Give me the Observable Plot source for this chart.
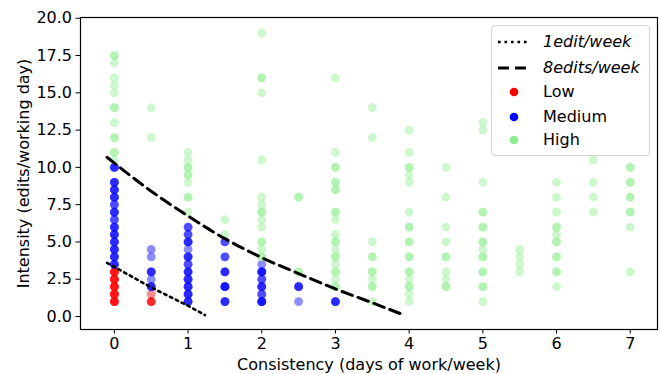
<!DOCTYPE html>
<html>
<head>
<meta charset="utf-8">
<script src="https://cdn.jsdelivr.net/npm/d3@7"></script>
<script src="https://cdn.jsdelivr.net/npm/@observablehq/plot@0.6"></script>
<style>
  html, body { margin: 0; padding: 0; background: #fff; }
  #wrap { position: relative; width: 660px; height: 374px; font-family: "DejaVu Sans", sans-serif; }
  #legend { position: absolute; left: 491px; top: 25px; width: 157px; height: 129px;
    border: 1px solid #d4d4d4; border-radius: 4px; background: rgba(255,255,255,0.8); }
  .row { position: absolute; left: 0; height: 22px; display: flex; align-items: center; font-size: 16px; color: #000; }
  .row svg { display: block; }
  .row .lbl { position: absolute; left: 51px; white-space: nowrap; line-height: 22px; }
  .it { font-style: italic; }
</style>
</head>
<body>
<div id="wrap"></div>
<script>
// ---- data (x = consistency, y = intensity, n = number of overlapping points) ----
const lowPts = [
  [0,1,4],[0,1.5,4],[0,2,4],[0,2.5,4],[0,3,4],
  [0.5,1,3],[0.5,1.5,1]
];
const mediumPts = [
  [0,3.5,3],[0,4,3],[0,4.5,3],[0,5,3],[0,5.5,3],[0,6,3],[0,6.5,2],[0,7,3],[0,7.5,2],[0,8,3],[0,8.5,3],[0,9,3],[0,10,3],
  [0.5,2,3],[0.5,2.5,1],[0.5,3,3],[0.5,4,1],[0.5,4.5,1],
  [1,1,3],[1,1.5,3],[1,2,3],[1,2.5,3],[1,3,3],[1,3.5,2],[1,4,3],[1,4.5,1],[1,5,3],[1,5.5,2],[1,6,2],
  [1.5,1,3],[1.5,2,4],[1.5,3,3],[1.5,4,2],[1.5,5,2],
  [2,1,4],[2,1.5,2],[2,2,3],[2,2.5,2],[2,3,4],[2,3.5,1],
  [2.5,1,1],[2.5,2,3],
  [3,1,3]
];
const highPts = [
  [0,10.5,1],[0,11,2],[0,12,2],[0,13,1],[0,14,2],[0,15,1],[0,15.5,1],[0,16,1],[0,17,1],[0,17.5,2],
  [0.5,12,1],[0.5,14,1],
  [1,7,1],[1,8,2],[1,9,1],[1,9.5,2],[1,10,2],[1,10.5,1],[1,11,1],
  [1.5,5.5,1],[1.5,6.5,1],
  [2,4,2],[2,4.5,1],[2,5,2],[2,6,1],[2,6.5,1],[2,7,2],[2,7.5,1],[2,8,1],[2,10.5,1],[2,15,1],[2,16,2],[2,19,1],
  [2.5,3,2],[2.5,8,2],
  [3,2,2],[3,2.5,1],[3,3,2],[3,3.5,1],[3,4,2],[3,4.5,1],[3,5,2],[3,5.5,1],[3,6.5,1],[3,7,2],[3,8.5,2],[3,9,2],[3,10,2],[3,11,1],[3,16,1],
  [3.5,1,1],[3.5,2,2],[3.5,2.5,1],[3.5,3,2],[3.5,4,2],[3.5,5,1],[3.5,12,1],[3.5,14,1],
  [4,1,1],[4,1.5,1],[4,2,2],[4,2.5,1],[4,3,2],[4,4,2],[4,5,2],[4,6,2],[4,7,1],[4,9,1],[4,9.5,1],[4,10,2],[4,11,1],[4,12.5,1],
  [4.5,2,2],[4.5,2.5,1],[4.5,3,1],[4.5,4,2],[4.5,5,1],[4.5,6,1],[4.5,8,1],[4.5,10,1],
  [5,1,1],[5,2,2],[5,3,2],[5,4,2],[5,4.5,1],[5,5,2],[5,6,2],[5,7,2],[5,9,1],[5,12.5,1],[5,13,1],
  [5.5,3,1],[5.5,3.5,1],[5.5,4,1],[5.5,4.5,1],
  [6,2,1],[6,3,2],[6,4,2],[6,5,2],[6,5.5,1],[6,6,2],[6,7,1],[6,8,1],[6,9,1],[6,14,1],
  [6.5,7,1],[6.5,8,1],[6.5,9,1],[6.5,10.5,1],
  [7,3,1],[7,6,1],[7,7,2],[7,8,2],[7,9,2],[7,10,2],[7,18,1]
];
const oneEditX = [-0.1, 0.5, 1, 1.23];
const oneEditY = [3.6, 1.95, 0.72, 0.1];
const eightEditsX = [-0.1, 0.5, 1, 1.5, 2, 2.5, 3, 3.5, 3.95];
const eightEditsY = [10.68, 8.4, 6.74, 5.22, 3.95, 2.88, 1.85, 0.92, 0.06];
const xTicks = [0, 1, 2, 3, 4, 5, 6, 7];
const yTicks = [0, 2.5, 5, 7.5, 10, 12.5, 15, 17.5, 20];
const xLabel = "Consistency (days of work/week)";
const yLabel = "Intensity (edits/working day)";

// ---- build tables ----
const expand = pts => pts.flatMap(([x, y, n]) => d3.range(n).map(() => ({x, y})));
const low = expand(lowPts), medium = expand(mediumPts), high = expand(highPts);
const oneEdit = oneEditX.map((x, i) => ({x, y: oneEditY[i]}));
const eightEdits = eightEditsX.map((x, i) => ({x, y: eightEditsY[i]}));

const A = 0.45, R = 4.4;
const chart = Plot.plot({
  width: 660, height: 374,
  marginLeft: 80, marginRight: 3, marginTop: 17, marginBottom: 45,
  style: { fontFamily: "DejaVu Sans", fontSize: "16px", background: "white", color: "black" },
  x: { domain: [-0.46, 7.37] },
  y: { domain: [-0.87, 20.05] },
  marks: [
    Plot.axisX({ ticks: xTicks, tickFormat: d => String(d), tickSize: 4.5, tickPadding: 4, label: null, fontSize: 16 }),
    Plot.axisY({ ticks: yTicks, tickFormat: d3.format(".1f"), tickSize: 4.5, tickPadding: 4, label: null, fontSize: 16 }),
    Plot.dot(low, { x: "x", y: "y", r: R, fill: "red", fillOpacity: A, stroke: "none" }),
    Plot.dot(medium, { x: "x", y: "y", r: R, fill: "blue", fillOpacity: A, stroke: "none" }),
    Plot.dot(high, { x: "x", y: "y", r: R, fill: "lightgreen", fillOpacity: A, stroke: "none" }),
    Plot.line(oneEdit, { x: "x", y: "y", stroke: "black", strokeWidth: 2.6, strokeDasharray: "2.6,3.9" }),
    Plot.line(eightEdits, { x: "x", y: "y", stroke: "black", strokeWidth: 3, strokeDasharray: "11,6", curve: "monotone-x" }),
    Plot.frame({ stroke: "black", strokeWidth: 1.2 }),
    Plot.text([xLabel], { text: d => d, frameAnchor: "bottom", dy: 35, lineAnchor: "middle", textAnchor: "middle", fontSize: 16, fill: "black" }),
    Plot.text([yLabel], { text: d => d, frameAnchor: "left", dx: -57, rotate: -90, lineAnchor: "middle", textAnchor: "middle", fontSize: 16, fill: "black" })
  ]
});
const wrap = document.getElementById("wrap");
wrap.appendChild(chart);

// ---- legend ----
const legendItems = [
  { label: "1edit/week", kind: "dotted", italic: true },
  { label: "8edits/week", kind: "dashed", italic: true },
  { label: "Low", kind: "dot", color: "red" },
  { label: "Medium", kind: "dot", color: "blue" },
  { label: "High", kind: "dot", color: "lightgreen" }
];
const rowCenters = [15.5, 41.5, 66, 91, 114.3];
const leg = document.createElement("div");
leg.id = "legend";
legendItems.forEach((it, i) => {
  const row = document.createElement("div");
  row.className = "row";
  row.style.top = (rowCenters[i] - 11) + "px";
  let handle;
  if (it.kind === "dot") {
    handle = `<svg width="40" height="22"><circle cx="22" cy="11" r="4.3" fill="${it.color}"/></svg>`;
  } else if (it.kind === "dotted") {
    handle = `<svg width="40" height="22"><line x1="6" x2="38" y1="11" y2="11" stroke="black" stroke-width="2.6" stroke-dasharray="2.6,3.9"/></svg>`;
  } else {
    handle = `<svg width="40" height="22"><line x1="6" x2="38" y1="11" y2="11" stroke="black" stroke-width="3" stroke-dasharray="11,6"/></svg>`;
  }
  row.innerHTML = handle + `<span class="lbl${it.italic ? " it" : ""}">${it.label}</span>`;
  leg.appendChild(row);
});
wrap.appendChild(leg);
</script>
</body>
</html>
